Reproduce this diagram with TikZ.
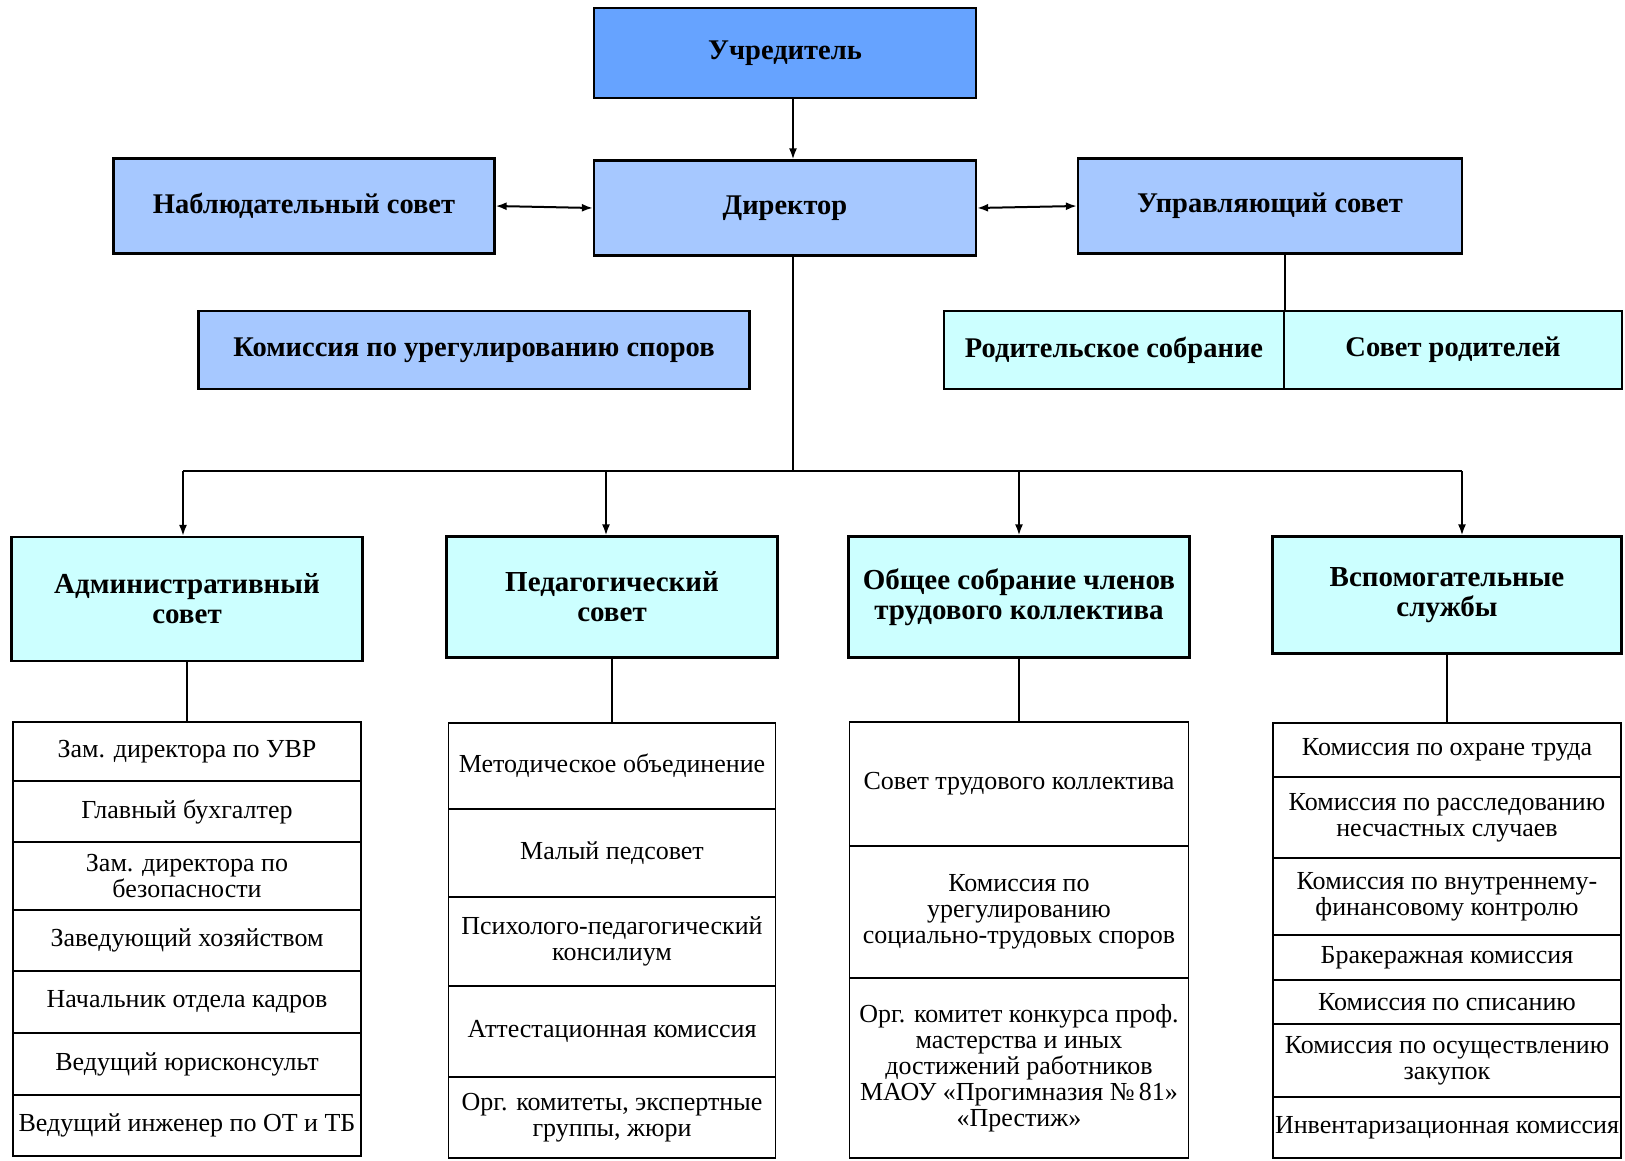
\documentclass[tikz,border=0pt]{standalone}
\usepackage{fontspec}
\setmainfont{Liberation Serif}
\usepackage{xcolor}
\usepackage{tikz}
\usetikzlibrary{shapes,arrows,arrows.meta}

\definecolor{dblue}{HTML}{66A3FF}
\definecolor{lblue}{HTML}{A6C8FF}
\definecolor{lcyan}{HTML}{CCFFFF}

\begin{document}
\begin{tikzpicture}[x=1pt, y=-1pt, >={Latex[length=11pt,width=8pt]}, line width=2pt,
		bigbox/.style={rectangle, draw = black, line width=2.2pt, inner sep=0pt, align=center, font=\bfseries\fontsize{28.5}{32}\selectfont},
		subbox/.style={rectangle, draw = black, line width=2.2pt, fill = lcyan, inner sep=0pt, align=center, minimum height=121pt, font=\bfseries\fontsize{29}{30}\selectfont},
		listbox/.style={rectangle, draw = black, line width=1.8pt, inner sep=0pt, align=center, font=\fontsize{26}{26}\selectfont}]
		\useasboundingbox (0,0) rectangle (1625,1160);
		
		\node (u)[bigbox, fill = dblue, minimum width=382pt, minimum height=90pt] at (785,53) {Учредитель};
		\node (d)[bigbox, fill = lblue, minimum width=382pt, minimum height=95pt] at (785,208) {Директор};
		\node (ns)[bigbox, fill = lblue, minimum width=381pt, minimum height=95pt] at (304,206) {Наблюдательный совет};
		\node (us)[bigbox, fill = lblue, minimum width=384pt, minimum height=95pt] at (1270,206) {Управляющий совет};
		\node (ks)[bigbox, fill = lblue, minimum width=551pt, minimum height=78pt] at (474,350) {Комиссия по урегулированию споров};
		\node (rs)[bigbox, fill = lcyan, minimum width=340pt, minimum height=78pt] at (1114,350) {Родительское собрание};
		\node (sr)[bigbox, fill = lcyan, minimum width=338pt, minimum height=78pt] at (1453,350) {Совет родителей};
		
		\node (as)[subbox, minimum width=351pt, minimum height=124pt] at (187,599) {Административный\\совет};
		\node (ps)[subbox, minimum width=331pt] at (612,597) {Педагогический\\совет};
		\node (os)[subbox, minimum width=341pt] at (1019,597) {Общее собрание членов\\трудового коллектива};
		\node (vs)[subbox, minimum width=349pt, minimum height=117pt] at (1447,595) {Вспомогательные\\службы};
		
		\node (a1)[listbox, minimum width=348pt, minimum height=59pt] at (187,751.5) {Зам. директора по УВР};
		\node (a2)[listbox, minimum width=348pt, minimum height=61pt] at (187,811.5) {Главный бухгалтер};
		\node (a3)[listbox, minimum width=348pt, minimum height=68pt] at (187,876) {Зам. директора по\\безопасности};
		\node (a4)[listbox, minimum width=348pt, minimum height=61pt] at (187,940.5) {Заведующий хозяйством};
		\node (a5)[listbox, minimum width=348pt, minimum height=62pt] at (187,1002) {Начальник отдела кадров};
		\node (a6)[listbox, minimum width=348pt, minimum height=62pt] at (187,1064) {Ведущий юрисконсульт};
		\node (a7)[listbox, minimum width=348pt, minimum height=61pt] at (187,1125.5) {Ведущий инженер по ОТ и ТБ};
		
		\node (p1)[listbox, minimum width=327pt, minimum height=86pt] at (612,766) {Методическое объединение};
		\node (p2)[listbox, minimum width=327pt, minimum height=88pt] at (612,853) {Малый педсовет};
		\node (p3)[listbox, minimum width=327pt, minimum height=89pt] at (612,941.5) {Психолого-педагогический\\консилиум};
		\node (p4)[listbox, minimum width=327pt, minimum height=91pt] at (612,1031.5) {Аттестационная комиссия};
		\node (p5)[listbox, minimum width=327pt, minimum height=81pt] at (612,1117.5) {Орг. комитеты, экспертные\\группы, жюри};
		
		\node (o1)[listbox, minimum width=339pt, minimum height=124pt] at (1019,784) {Совет трудового коллектива};
		\node (o2)[listbox, minimum width=339pt, minimum height=132pt] at (1019,912) {Комиссия по\\урегулированию\\социально-трудовых споров};
		\node (o3)[listbox, minimum width=339pt, minimum height=180pt] at (1019,1068) {Орг. комитет конкурса проф.\\мастерства и иных\\достижений работников\\МАОУ «Прогимназия №\,81»\\«Престиж»};
		
		\node (v1)[listbox, minimum width=348pt, minimum height=54pt] at (1447,750) {Комиссия по охране труда};
		\node (v2)[listbox, minimum width=348pt, minimum height=81pt] at (1447,817.5) {Комиссия по расследованию\\несчастных случаев};
		\node (v3)[listbox, minimum width=348pt, minimum height=77pt] at (1447,896.5) {Комиссия по внутреннему-\\финансовому контролю};
		\node (v4)[listbox, minimum width=348pt, minimum height=45pt] at (1447,957.5) {Бракеражная комиссия};
		\node (v5)[listbox, minimum width=348pt, minimum height=44pt] at (1447,1002) {Комиссия по списанию};
		\node (v6)[listbox, minimum width=348pt, minimum height=73pt] at (1447,1060.5) {Комиссия по осуществлению\\закупок};
		\node (v7)[listbox, minimum width=348pt, minimum height=61pt] at (1447,1127.5) {Инвентаризационная комиссия};
		
		\coordinate (b1) at (183,471);
		\coordinate (b2) at (606,471);
		\coordinate (b3) at (1019,471);
		\coordinate (b4) at (1462,471);
		\coordinate (tr) at (793,471);
		
		\draw[->] (u.south -| tr) -- (d.north -| tr);
		\draw[<->] (ns.east) -- (d.west);
		\draw[<->] (d.east) -- (us.west);
		\draw (rs.north east) -- (rs.north east |- us.south);
		
		\draw (d.south -| tr) -- (tr);
		\draw (b1) -- (b4);
		\draw[->] (b1) -- (b1 |- as.north);
		\draw[->] (b2) -- (b2 |- ps.north);
		\draw[->] (b3) -- (b3 |- os.north);
		\draw[->] (b4) -- (b4 |- vs.north);
		
		\draw (as.south) -- (a1.north);
		\draw (ps.south) -- (p1.north);
		\draw (os.south) -- (o1.north);
		\draw (vs.south) -- (v1.north);
	\end{tikzpicture}
\end{document}
